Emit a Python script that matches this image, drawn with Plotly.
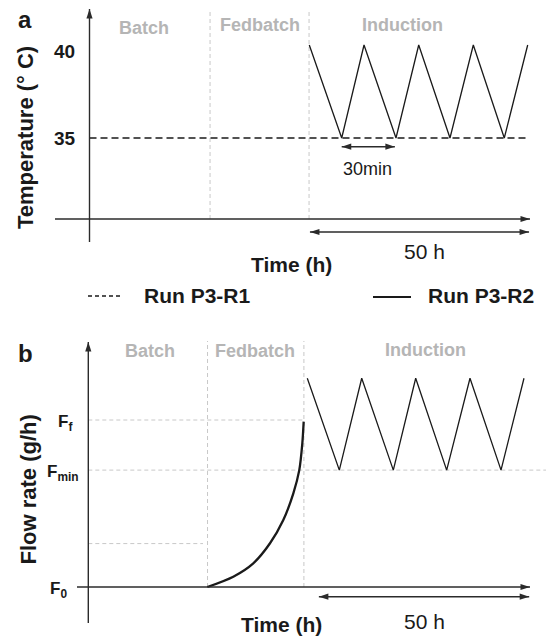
import plotly.graph_objects as go

W, H = 546, 637
FONT = "Liberation Sans, Arial, Helvetica, sans-serif"
INK = "#1a1a1a"
AXIS = "#2b2b2b"
PHASE_TXT = "#b5b5b5"
GRID = "#c8c8c8"

# ---------------- data ----------------
phase_names = ["Batch", "Fedbatch", "Induction"]

# Panel a - temperature profile (schematic time axis, h)
a_phase_bounds = [27.4, 49.9]                      # Batch|Fedbatch, Fedbatch|Induction
a_r1_time = [0.0, 99.4]
a_r1_temp = [35, 35]
a_r2_time = [49.95, 57.32, 62.39, 69.66, 74.82, 81.93, 87.23, 94.27, 99.59]
a_r2_temp = [40, 35, 40, 35, 40, 35, 40, 35, 40]
a_tick_vals = [35, 40]
a_tick_text = ["35", "40"]
a_induction_span = [50.1, 99.9]                    # 50 h
a_period_span = [57.32, 69.4]                      # 30 min

# Panel b - feed flow rate (relative units)
b_phase_bounds = [27.1, 49.0]
b_fed_time = [27.05, 32.95, 37.5, 41.3, 44.32, 46.6, 47.95, 48.64, 48.95]
b_fed_flow = [0.0, 0.062, 0.142, 0.262, 0.401, 0.561, 0.70, 0.86, 0.99]
b_ind_time = [49.77, 57.05, 62.14, 69.32, 74.41, 81.45, 86.75, 93.8, 99.02]
b_ind_flow = [1.25, 0.70, 1.25, 0.70, 1.25, 0.70, 1.25, 0.70, 1.25]
b_tick_vals = [0.0, 0.70, 1.0]
b_tick_text = ["F<sub>0</sub>", "F<sub>min</sub>", "F<sub>f</sub>"]
b_batch_level = 0.26
b_induction_span = [52.4, 100.2]                   # 50 h

series_names = ["Run P3-R1", "Run P3-R2"]

# ---------------- geometry (layout only) ----------------
A_X0, B_X0 = 89.5, 88.3
PX_PER_H = 4.4
A_ROW35, A_PX_PER_C = 138.0, 18.6
B_ROW0, B_PX_PER_F = 587.0, 167.0
SPLIT = 300


def a_t(px):
    return (px - A_X0) / PX_PER_H


def a_T(row):
    return 35 + (A_ROW35 - row) / A_PX_PER_C


def b_t(px):
    return (px - B_X0) / PX_PER_H


def b_F(row):
    return (B_ROW0 - row) / B_PX_PER_F


def px(x):
    return x / W


def py(row):
    return 1 - row / H


fig = go.Figure()

# ---- traces ----
fig.add_trace(go.Scatter(x=a_r1_time, y=a_r1_temp, mode="lines", xaxis="x", yaxis="y",
                         line=dict(color=INK, width=1.5, dash="7px,4px"),
                         name=series_names[0], showlegend=False))
fig.add_trace(go.Scatter(x=a_r2_time, y=a_r2_temp, mode="lines", xaxis="x", yaxis="y",
                         line=dict(color=INK, width=1.3),
                         name=series_names[1], showlegend=False))
fig.add_trace(go.Scatter(x=b_fed_time, y=b_fed_flow, mode="lines", xaxis="x2", yaxis="y2",
                         line=dict(color=INK, width=2.3, shape="spline", smoothing=0.8),
                         showlegend=False))
fig.add_trace(go.Scatter(x=b_ind_time, y=b_ind_flow, mode="lines", xaxis="x2", yaxis="y2",
                         line=dict(color=INK, width=1.3), showlegend=False))

shapes = []
annotations = []

# ---- phase separators / guide lines ----
GUIDE = dict(color=GRID, width=1, dash="4px,3px")
for t in a_phase_bounds:
    shapes.append(dict(type="line", xref="x", yref="y", x0=t, x1=t, y0=a_T(219), y1=a_T(9),
                       line=GUIDE, layer="below"))
for t in b_phase_bounds:
    shapes.append(dict(type="line", xref="x2", yref="y2", x0=t, x1=t, y0=0, y1=b_F(341),
                       line=GUIDE, layer="below"))
shapes.append(dict(type="line", xref="x2", yref="y2", x0=0, x1=b_phase_bounds[1],
                   y0=b_tick_vals[2], y1=b_tick_vals[2], line=GUIDE, layer="below"))
shapes.append(dict(type="line", xref="x2", yref="y2", x0=0, x1=b_t(W),
                   y0=b_tick_vals[1], y1=b_tick_vals[1], line=GUIDE, layer="below"))
shapes.append(dict(type="line", xref="x2", yref="y2", x0=0, x1=b_t(203),
                   y0=b_batch_level, y1=b_batch_level, line=GUIDE, layer="below"))

# ---- axis lines and arrows (line shapes + arrow-head markers) ----
heads = {"x": ([], [], []), "x2": ([], [], [])}


def arrow(xr, x0, y0, x1, y1, angle, both=False):
    yr = "y" if xr == "x" else "y2"
    shapes.append(dict(type="line", xref=xr, yref=yr, x0=x0, y0=y0, x1=x1, y1=y1,
                       line=dict(color=AXIS, width=1.4)))
    hx, hy, ha = heads[xr]
    hx.append(x1); hy.append(y1); ha.append(angle)
    if both:
        hx.append(x0); hy.append(y0); ha.append((angle + 180) % 360)


arrow("x", a_t(55), a_T(219), a_t(530), a_T(219), 90)
arrow("x", 0, a_T(242), 0, a_T(9), 0)
arrow("x", a_induction_span[0], a_T(232), a_induction_span[1], a_T(232), 90, both=True)
arrow("x", a_period_span[0], a_T(146.7), a_period_span[1], a_T(146.7), 90, both=True)

arrow("x2", b_t(77), 0, b_t(530), 0, 90)
arrow("x2", 0, b_F(623), 0, b_F(342), 0)
arrow("x2", b_induction_span[0], b_F(596.7), b_induction_span[1], b_F(596.7), 90, both=True)

for xr, (hx, hy, ha) in heads.items():
    fig.add_trace(go.Scatter(x=hx, y=hy, mode="markers", xaxis=xr,
                             yaxis="y" if xr == "x" else "y2", cliponaxis=False,
                             marker=dict(symbol="arrow", size=10, angle=ha, color=AXIS,
                                         line=dict(width=0)),
                             hoverinfo="skip", showlegend=False))


def text(x, row, s, size, color=INK, bold=True, xanchor="center", angle=0):
    annotations.append(dict(xref="paper", yref="paper", x=px(x), y=py(row),
                            text=f"<b>{s}</b>" if bold else s, showarrow=False,
                            xanchor=xanchor, yanchor="middle", textangle=angle,
                            font=dict(family=FONT, size=size, color=color)))


# panel letters
text(25, 20, "a", 24)
text(25.5, 353, "b", 24)

# phase labels
for name, (x, row) in zip(phase_names, [(144, 28), (259.5, 25), (402.5, 25)]):
    text(x, row, name, 18, PHASE_TXT)
for name, (x, row) in zip(phase_names, [(150, 351), (255, 351), (425.7, 350)]):
    text(x, row, name, 18, PHASE_TXT)

# y tick labels
for v, s, dy in zip(a_tick_vals, a_tick_text, [0, 6]):
    annotations.append(dict(xref="paper", yref="y", x=px(64.5), y=v, yshift=-dy,
                            text=f"<b>{s}</b>", showarrow=False, xanchor="center",
                            yanchor="middle", font=dict(family=FONT, size=19, color=INK)))
for v, s, x in zip(b_tick_vals, b_tick_text, [58.5, 63, 65]):
    annotations.append(dict(xref="paper", yref="y2", x=px(x), y=v, yshift=-3,
                            text=f"<b>{s}</b>", showarrow=False, xanchor="center",
                            yanchor="middle", font=dict(family=FONT, size=17, color=INK)))

# axis titles
text(26, 138, "Temperature (° C)", 22, angle=-90)
text(27.5, 490, "Flow rate (g/h)", 22, angle=-90)
text(291, 265, "Time (h)", 21)
text(281, 624, "Time (h)", 21)

# annotations
text(424.5, 252, "50 h", 21, bold=False)
text(424.5, 621.7, "50 h", 21, bold=False)
text(367.7, 168.5, "30min", 18, bold=False)

# legend (drawn)
shapes.append(dict(type="line", xref="paper", yref="paper", x0=px(88), x1=px(123),
                   y0=py(296), y1=py(296), line=dict(color=INK, width=1.5, dash="4px,3px")))
shapes.append(dict(type="line", xref="paper", yref="paper", x0=px(373), x1=px(411),
                   y0=py(297), y1=py(297), line=dict(color=INK, width=1.8)))
text(141.7, 296, series_names[0], 21, xanchor="left")
text(426, 296, series_names[1], 21, xanchor="left")

fig.update_layout(
    width=W, height=H, margin=dict(l=0, r=0, t=0, b=0),
    paper_bgcolor="white", plot_bgcolor="white",
    xaxis=dict(domain=[0, 1], range=[a_t(0), a_t(W)], visible=False, anchor="y",
               fixedrange=True),
    yaxis=dict(domain=[py(SPLIT), 1], range=[a_T(SPLIT), a_T(0)], visible=False,
               anchor="x", fixedrange=True),
    xaxis2=dict(domain=[0, 1], range=[b_t(0), b_t(W)], visible=False, anchor="y2",
                fixedrange=True),
    yaxis2=dict(domain=[0, py(SPLIT)], range=[b_F(H), b_F(SPLIT)], visible=False,
                anchor="x2", fixedrange=True),
    shapes=shapes, annotations=annotations, showlegend=False,
    font=dict(family=FONT, color=INK),
)

fig.write_html("out.html", config={"displayModeBar": False})
